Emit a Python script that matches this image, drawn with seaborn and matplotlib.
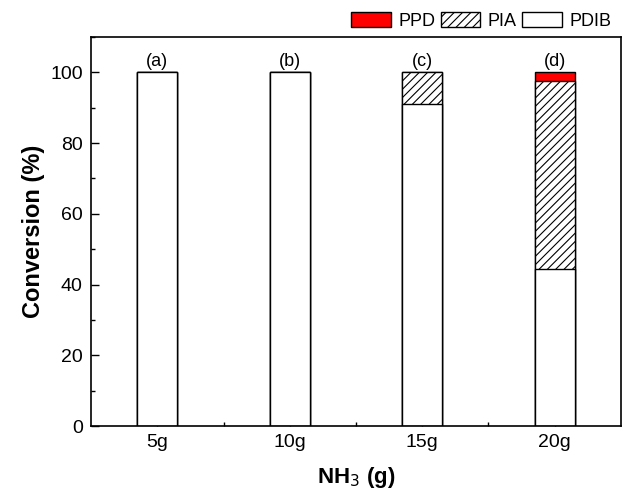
import matplotlib
matplotlib.use("Agg")
import matplotlib.pyplot as plt
import seaborn as sns
import pandas as pd
import numpy as np
from matplotlib.patches import Patch
from matplotlib.ticker import AutoMinorLocator, FixedLocator

sns.set_style("ticks")
plt.rcParams['font.family'] = ['Liberation Sans', 'DejaVu Sans']
plt.rcParams['hatch.linewidth'] = 0.8
plt.rcParams['text.color'] = 'black'
plt.rcParams['axes.labelcolor'] = 'black'

categories = ["5g", "10g", "15g", "20g"]
pdib = [100, 100, 91, 44.5]
pia = [0, 0, 9, 53]
ppd = [0, 0, 0, 2.5]
letters = ["(a)", "(b)", "(c)", "(d)"]

df = pd.DataFrame({"cat": categories, "PDIB": pdib, "PIA": pia, "PPD": ppd})
df["top_pia"] = df["PDIB"] + df["PIA"]
df["top_ppd"] = df["top_pia"] + df["PPD"]

fig = plt.figure(figsize=(6.26, 4.96), dpi=100)
ax = fig.add_axes([0.1454, 0.1411, 0.8466, 0.7843])

w = 0.3
sns.barplot(data=df, x="cat", y="top_ppd", color="red", edgecolor="black",
            linewidth=1.0, width=w, ax=ax, saturation=1)
sns.barplot(data=df, x="cat", y="top_pia", color="white", edgecolor="black",
            linewidth=1.0, width=w, ax=ax, saturation=1, hatch="////")
sns.barplot(data=df, x="cat", y="PDIB", color="white", edgecolor="black",
            linewidth=1.0, width=w, ax=ax, saturation=1)

for i, (lab, t) in enumerate(zip(letters, df["top_ppd"])):
    ax.text(i, t + 0.8, lab, ha="center", va="bottom", fontsize=13, color="black")

ax.set_xlim(-0.5, 3.5)
ax.set_ylim(0, 110)
ax.set_yticks([0, 20, 40, 60, 80, 100])
ax.yaxis.set_minor_locator(AutoMinorLocator(2))
ax.xaxis.set_minor_locator(FixedLocator([0.5, 1.5, 2.5]))
ax.tick_params(axis="both", which="major", direction="in", length=6, width=1,
               labelsize=14, color="black", labelcolor="black", pad=6)
ax.tick_params(axis="both", which="minor", direction="in", length=3, width=1, color="black")
for s in ax.spines.values():
    s.set_visible(True)
    s.set_color("black")
    s.set_linewidth(1.2)

ax.set_xlabel("NH$_3$ (g)", fontsize=16, fontweight="bold", labelpad=10, color="black")
ax.set_ylabel("Conversion (%)", fontsize=17, fontweight="bold", labelpad=4, color="black")

handles = [Patch(facecolor="red", edgecolor="black", label="PPD"),
           Patch(facecolor="white", edgecolor="black", hatch="////", label="PIA"),
           Patch(facecolor="white", edgecolor="black", label="PDIB")]
fig.legend(handles=handles, loc="center right", bbox_to_anchor=(0.979, 0.958),
           bbox_transform=fig.transFigure, ncol=3,
           frameon=False, fontsize=13, handlelength=2.2, handleheight=0.9,
           columnspacing=0.3, handletextpad=0.4, borderaxespad=0.0, borderpad=0.1,
           labelcolor="black")

fig.savefig("out.png", dpi=100)
